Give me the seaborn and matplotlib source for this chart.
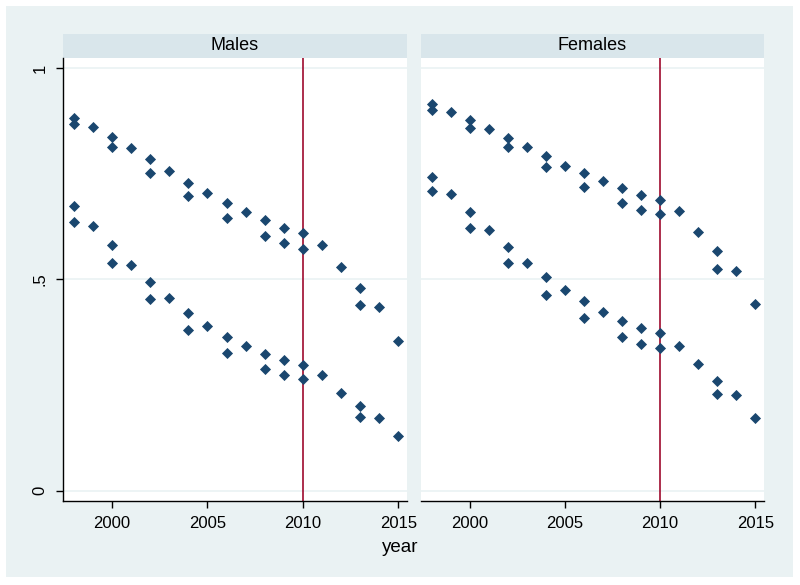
import pandas as pd
import numpy as np
import matplotlib
matplotlib.use('Agg')
import matplotlib.pyplot as plt
import seaborn as sns
from matplotlib.patches import Rectangle

# ── data ────────────────────────────────────────────────────────────────
male_hi_year = [1998, 1998, 1999, 2000, 2000, 2001, 2002, 2002, 2003, 2004, 2004, 2005,
                2006, 2006, 2007, 2008, 2008, 2009, 2009, 2010, 2010, 2011, 2012,
                2013, 2013, 2014, 2015]
male_hi_val = [0.883, 0.867, 0.861, 0.837, 0.813, 0.810, 0.784, 0.753, 0.756, 0.729, 0.697, 0.705,
               0.681, 0.645, 0.659, 0.640, 0.602, 0.623, 0.586, 0.610, 0.573, 0.581, 0.529,
               0.480, 0.440, 0.434, 0.355]
male_lo_year = male_hi_year
male_lo_val = [0.673, 0.637, 0.626, 0.581, 0.540, 0.535, 0.494, 0.453, 0.457, 0.421, 0.381, 0.391,
               0.364, 0.326, 0.343, 0.324, 0.288, 0.310, 0.275, 0.297, 0.264, 0.273, 0.232,
               0.200, 0.175, 0.172, 0.129]

female_hi_year = male_hi_year
female_hi_val = [0.916, 0.902, 0.896, 0.878, 0.859, 0.856, 0.835, 0.813, 0.813, 0.791, 0.765, 0.769,
                 0.751, 0.719, 0.732, 0.716, 0.681, 0.699, 0.664, 0.689, 0.654, 0.662, 0.613,
                 0.567, 0.524, 0.521, 0.441]
female_lo_year = male_hi_year
female_lo_val = [0.743, 0.710, 0.702, 0.660, 0.621, 0.618, 0.578, 0.538, 0.540, 0.505, 0.464, 0.476,
                 0.449, 0.408, 0.424, 0.403, 0.365, 0.386, 0.348, 0.373, 0.338, 0.343, 0.299,
                 0.259, 0.230, 0.227, 0.173]

panels = ['Males', 'Females']
x_ticks = [2000, 2005, 2010, 2015]
y_ticks = [0, 0.5, 1]
y_tick_labels = ['0', '.5', '1']
ref_year = 2010

df = pd.concat([
    pd.DataFrame({'sex': 'Males', 'year': male_hi_year + male_lo_year,
                  'value': male_hi_val + male_lo_val}),
    pd.DataFrame({'sex': 'Females', 'year': female_hi_year + female_lo_year,
                  'value': female_hi_val + female_lo_val}),
])

# ── figure ───────────────────────────────────────────────────────────────
sns.set_style('white')
plt.rcParams['font.family'] = ['Liberation Sans', 'DejaVu Sans']
plt.rcParams['text.color'] = 'black'
plt.rcParams['xtick.color'] = 'black'
plt.rcParams['ytick.color'] = 'black'

W, H = 800, 585
fig = plt.figure(figsize=(W / 100, H / 100), dpi=100)
fig.patch.set_facecolor('white')
fig.patches.append(Rectangle((6 / W, 1 - 577 / H), 787 / W, 571 / H,
                             transform=fig.transFigure, facecolor='#EAF2F3',
                             edgecolor='none', zorder=-10))

bg = '#EAF2F3'
strip = '#D9E6EB'
navy = '#1A476F'
maroon = '#9E0A2E'

boxes = {'Males': (63, 407), 'Females': (421, 764)}
top_px, bot_px = 58, 501

for name in panels:
    x0, x1 = boxes[name]
    ax = fig.add_axes([x0 / W, 1 - bot_px / H, (x1 - x0) / W, (bot_px - top_px) / H])
    ax.set_zorder(5)
    ax.set_facecolor('white')
    sub = df[df['sex'] == name]
    for y in y_ticks:
        ax.axhline(y, color=bg, lw=1.2, zorder=1)
    ax.axvline(ref_year, color=maroon, lw=1.2, zorder=2)
    sns.scatterplot(data=sub, x='year', y='value', ax=ax, marker='D', s=32,
                    color=navy, edgecolor=navy, linewidth=0, zorder=3, legend=False)
    ax.set_xlim(1997.43, 2015.46)
    ax.set_ylim(-0.024, 1.024)
    ax.set_xticks(x_ticks)
    ax.set_xticklabels([str(t) for t in x_ticks], fontsize=12)
    ax.tick_params(axis='x', length=5, width=1, color='black', labelcolor='black',
                   pad=6, direction='out', bottom=True)
    for s in ['top', 'right']:
        ax.spines[s].set_visible(False)
    ax.spines['bottom'].set_color('black')
    ax.spines['bottom'].set_linewidth(1)
    if name == 'Males':
        ax.set_yticks(y_ticks)
        ax.set_yticklabels(y_tick_labels, fontsize=12, rotation=90, va='center')
        ax.tick_params(axis='y', length=5, width=1, color='black', labelcolor='black',
                       pad=6, direction='out', left=True)
        ax.spines['left'].set_color('black')
        ax.spines['left'].set_linewidth(1)
    else:
        ax.set_yticks([])
        ax.spines['left'].set_visible(False)
    ax.set_xlabel('')
    ax.set_ylabel('')

    # panel header
    fig.patches.append(Rectangle((x0 / W, 1 - top_px / H), (x1 - x0) / W, 24 / H,
                                 transform=fig.transFigure, facecolor=strip,
                                 edgecolor='none', zorder=1))
    fig.text((x0 + x1) / 2 / W, 1 - 46 / H, name, ha='center', va='center',
             fontsize=13, color='black')

fig.text(400 / W, 1 - 548 / H, 'year', ha='center', va='center', fontsize=13.5,
         color='black')

plt.savefig('out.png', dpi=100, facecolor=fig.get_facecolor())
plt.close()
